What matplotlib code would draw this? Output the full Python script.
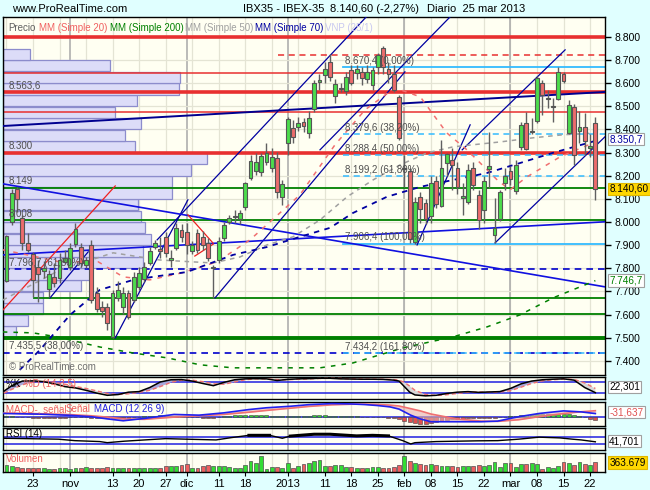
import numpy as np
import matplotlib
matplotlib.use('Agg')
import matplotlib.pyplot as plt
import matplotlib.transforms as mtrans

# ---------------- data ----------------
day_idx = np.arange(-5, 107)  # trading-day index, 0 = 23 Oct 2012

opens = [7746, 8001, 8143, 8018, 7910, 7862, 7806, 7790, 7711, 7763, 7759, 7828, 7806, 7906, 7893, 7815,
         7901, 7695, 7634, 7632, 7505, 7670, 7635, 7695, 7664, 7721, 7753, 7825, 7891, 7883, 7937, 7838,
         7887, 7966, 7959, 7873, 7953, 7935, 7910, 7800, 7836, 7931, 8002, 8020, 8013, 8064, 8190, 8222,
         8217, 8258, 8233, 8276, 8110, 8341, 8405, 8410, 8431, 8384, 8488, 8603, 8636, 8693, 8545, 8575,
         8568, 8657, 8646, 8650, 8620, 8593, 8669, 8751, 8660, 8640, 8542, 8230, 8222, 7915, 8110, 8081,
         8026, 8179, 8070, 8254, 8268, 8233, 8105, 8088, 8233, 8117, 8052, 8228, 7944, 8012, 8170, 8222,
         8132, 8323, 8430, 8388, 8438, 8600, 8530, 8497, 8531, 8640, 8384, 8496, 8394, 8410, 8319, 8430]
highs = [7944, 8143, 8152, 8031, 7953, 7871, 7836, 7830, 7794, 7823, 7867, 7880, 7910, 7996, 7910, 7850,
         7923, 7721, 7660, 7650, 7707, 7745, 7721, 7707, 7786, 7807, 7828, 7894, 7922, 7935, 7959, 7877,
         7996, 7990, 7996, 7920, 7970, 7960, 7930, 7815, 7935, 8000, 8030, 8052, 8052, 8175, 8290, 8300,
         8300, 8342, 8320, 8304, 8180, 8456, 8440, 8455, 8450, 8481, 8614, 8640, 8690, 8724, 8620, 8600,
         8650, 8680, 8680, 8670, 8680, 8670, 8730, 8762, 8690, 8680, 8550, 8290, 8233, 8110, 8130, 8100,
         8200, 8200, 8355, 8300, 8320, 8260, 8169, 8250, 8260, 8140, 8200, 8390, 8105, 8140, 8235, 8240,
         8270, 8434, 8477, 8450, 8633, 8614, 8571, 8535, 8670, 8650, 8528, 8510, 8480, 8470, 8380, 8455]
lows = [7741, 7988, 8044, 7880, 7871, 7676, 7655, 7760, 7677, 7720, 7737, 7823, 7794, 7893, 7806, 7800,
        7650, 7613, 7590, 7534, 7499, 7660, 7604, 7582, 7656, 7707, 7742, 7815, 7885, 7844, 7851, 7804,
        7880, 7914, 7860, 7860, 7865, 7880, 7830, 7672, 7825, 7920, 7990, 7996, 7990, 8052, 8182, 8205,
        8200, 8247, 8218, 8103, 8075, 8290, 8340, 8395, 8390, 8363, 8477, 8570, 8600, 8610, 8516, 8560,
        8550, 8590, 8620, 8590, 8600, 8570, 8640, 8640, 8600, 8560, 8355, 8150, 7910, 7906.4, 7995, 7990,
        7995, 8060, 8067, 8200, 8140, 8120, 8031, 8080, 8140, 7970, 7995, 8147, 7910, 8005, 8140, 8160,
        8120, 8312, 8312, 8380, 8430, 8462, 8493, 8434, 8527, 8600, 8380, 8247, 8340, 8290, 8280, 8096]
closes = [7940, 8126, 8100, 7910, 7880, 7750, 7776, 7800, 7776, 7737, 7836, 7845, 7888, 7970, 7823, 7836,
          7663, 7623, 7617, 7565, 7692, 7705, 7695, 7591, 7762, 7781, 7805, 7875, 7909, 7873, 7865, 7843,
          7973, 7937, 7901, 7901, 7880, 7900, 7845, 7803, 7920, 7987, 8019, 8025, 8038, 8168, 8264, 8261,
          8287, 8297, 8280, 8129, 8163, 8444, 8369, 8430, 8413, 8449, 8600, 8614, 8662, 8628, 8597, 8580,
          8626, 8600, 8662, 8621, 8650, 8657, 8722, 8672, 8640, 8571, 8362, 8235, 7925, 8088, 8055, 8012,
          8170, 8078, 8233, 8294, 8247, 8153, 8112, 8225, 8160, 8009, 8178, 8243, 7973, 8131, 8200, 8185,
          8247, 8420, 8315, 8392, 8622, 8549, 8533, 8500, 8650, 8611, 8506, 8290, 8412, 8352, 8329, 8140.6]
volumes = [270, 240, 200, 160, 135, 160, 135, 135, 120, 110, 135, 170, 110, 135, 135, 180,
           160, 135, 160, 180, 135, 160, 170, 135, 160, 135, 135, 135, 135, 135, 220, 240,
           240, 260, 290, 160, 135, 230, 260, 240, 240, 230, 200, 170, 160, 260, 430, 330,
           600, 110, 200, 200, 135, 330, 160, 240, 290, 330, 430, 470, 240, 240, 260, 260,
           200, 200, 160, 160, 160, 180, 200, 160, 135, 200, 260, 600, 430, 330, 320, 260,
           290, 260, 230, 240, 240, 180, 240, 230, 230, 260, 240, 260, 400, 200, 330, 340,
           210, 290, 290, 340, 290, 120, 200, 160, 230, 400, 330, 260, 370, 290, 270, 363.679]

# moving averages (day index, price)
ma20_idx = [-5.7, -1.1, 5, 12.3, 17, 22, 28, 34.7, 40.9, 50.3, 56.9, 62.6, 68.2, 73, 78, 81.8, 87.5, 89.9, 93.1, 99.3, 106.9]
ma20_val = [7880, 7858, 7828, 7828, 7763, 7750, 7780, 7828, 7923, 8117, 8333, 8485, 8580, 8541, 8385, 8312, 8182, 8139, 8195, 8281, 8355]
ma50_idx = [-5.7, 5.1, 15.1, 23.9, 33.9, 39, 44.1, 49, 54.1, 59.2, 64.1, 69.2, 74.3, 79.2, 88, 94.3, 99.9, 106.3]
ma50_val = [7663, 7793, 7867, 7836, 7823, 7849, 7901, 7936, 8009, 8109, 8182, 8247, 8299, 8325, 8346, 8364, 8377, 8385]
ma70_idx = [-2.5, 1.3, 7, 12.6, 18.9, 22.6, 29, 37.7, 44.1, 50.3, 56, 60.3, 66.7, 73, 79.2, 85.6, 91.8, 98, 106]
ma70_val = [7361, 7447, 7599, 7707, 7750, 7763, 7784, 7858, 7892, 7936, 7975, 8039, 8109, 8152, 8182, 8212, 8255, 8299, 8350.7]
ma200_idx = [-5.7, 0, 4.5, 12.6, 18.9, 25.3, 31.5, 37.7, 54.1, 60.3, 69.7, 79.2, 85.6, 91.8, 98, 106]
ma200_val = [7525, 7521, 7504, 7460, 7434, 7413, 7383, 7370, 7370, 7391, 7456, 7504, 7547, 7599, 7672, 7746.7]

# volume at price (VNP 25/1): bin floor prices and volumes
vap_price = [7500, 7550, 7600, 7650, 7700, 7750, 7800, 7850, 7900, 7950, 8000, 8050, 8100,
             8150, 8200, 8250, 8300, 8350, 8400, 8450, 8500, 8550, 8600, 8650, 8700]
vap_vol = [13, 25, 40, 40, 78, 89, 140, 140, 148, 142, 138, 135, 169,
           169, 188, 204, 132, 122, 138, 112, 134, 176, 177, 107, 27]

# horizontal levels
red_thick = [8800, 8563.6, 8300]
red_thin = [8645, 8476]
green_thin = [8149, 8008, 7603]
fib_solid = [8670.4, 7906.4]
fib_dash = [8379.6, 8288.4, 8199.2, 7434.2]

# trend lines: (idx0, price0, idx1, price1)
navy_lines = [(3.2, 7672, 10.4, 7871), (15.5, 7499, 29.2, 8096), (23.4, 7923, 62.8, 8886),
              (34.3, 7672, 70.1, 8649), (54.1, 8312, 78.6, 8886), (72.4, 7901, 82.4, 8420),
              (80.9, 8312, 100.3, 8744), (87.1, 7910, 107.8, 8368)]
blue_long = [(-5.66, 8165, 107.8, 7720), (-5.66, 7858, 107.8, 8001)]
navy_long = [(-5.66, 8415, 107.8, 8562)]
red_lines = [(-5.66, 7620, 15.5, 8156), (29.2, 8031, 33.9, 7910), (30.5, 7853, 34.0, 7905)]

# oscillators (day index knots)
osc_idx = [-5.5, -4, -2, 0, 2, 4, 6, 8, 10, 12, 14, 16, 18, 20, 22, 24, 26, 28, 30, 32, 34, 36, 38, 40,
           42, 44, 46, 48, 50, 52, 54, 56, 58, 60, 62, 64, 66, 68, 69, 70, 71, 72, 74, 76, 78, 80, 82,
           84, 86, 88, 90, 92, 94, 96, 98, 100, 102, 104, 106]
stoch_k = [30, 60, 85, 86, 82, 70, 55, 48, 35, 20, 8, 12, 25, 28, 50, 80, 92, 93, 85, 72, 60, 78, 92, 97,
           98, 97, 88, 94, 97, 98, 100, 100, 97, 96, 95, 95, 94, 90, 85, 55, 25, 10, 5, 8, 18, 25, 28,
           24, 26, 28, 45, 70, 85, 92, 95, 97, 90, 50, 22.301]
stoch_d = [20, 40, 65, 80, 84, 78, 68, 56, 45, 32, 18, 12, 16, 24, 35, 55, 78, 90, 90, 82, 70, 68, 80, 92,
           97, 97, 93, 92, 95, 97, 99, 100, 99, 97, 96, 95, 95, 93, 90, 78, 58, 35, 12, 7, 11, 18, 25,
           26, 25, 26, 33, 52, 72, 86, 92, 96, 94, 75, 45]

macd_idx = [-5.5, 1.5, 7, 11, 14, 17, 21, 26.6, 31.3, 36, 40.7, 44, 48.5, 52, 56.3, 60, 62.6, 65, 67.3,
            69, 71.2, 73, 75, 79.8, 84.5, 87.6, 91.5, 95.4, 100, 103.3, 106]
macd_line = [41, 33, 20, 4, -20, -41, -15, 30, 22, 48, 85, 105, 122, 140, 152, 148, 141, 130, 115, 90,
             22, -20, -52, -52, -52, -45, 4, 41, 70, 59, 40]
macd_signal = [45, 38, 28, 15, 0, -20, -25, 0, 15, 30, 55, 75, 100, 120, 138, 145, 146, 142, 135, 125,
               95, 70, 35, -20, -45, -48, -30, 5, 40, 60, 72]
macd_hist = [8, 10, 6, 2, -4, -8, -10, -10, -12, -10, -8, -6, -4, -2, -2, -4,
             -8, -10, -12, -14, -10, -8, -6, -8, -4, 2, 8, 14, 18, 20, 18, 12,
             10, 8, 4, 0, -4, -6, -8, -6, 4, 12, 16, 20, 22, 26, 28, 26,
             24, 20, 18, 10, 8, 16, 18, 18, 16, 16, 20, 22, 20, 18, 14, 12,
             12, 10, 8, 6, 4, 2, 2, -2, -6, -10, -24, -40, -60, -70, -75, -80,
             -70, -60, -45, -35, -25, -20, -16, -12, -10, -12, -10, -8, -8, -4, 2, 8,
             14, 22, 26, 28, 34, 36, 34, 32, 36, 40, 34, 20, 10, 0, -18, -31.637]

rsi_idx = [-5.5, 4.8, 7.9, 12.6, 14, 17.2, 25, 29, 34.5, 37.5, 40.7, 44.6, 47, 48.5, 53, 56, 61, 64, 67,
           69.7, 71.2, 72, 76, 79.8, 83.7, 87.6, 91.5, 95.4, 99.3, 101.7, 103.3, 106]
rsi_val = [61, 56, 48, 43, 37, 45, 59, 56, 52, 65, 77, 77, 61, 73, 83, 83, 74, 77, 74,
           48, 30, 37, 43, 45, 47, 48, 56, 67, 63, 56, 52, 41.701]

month_idx = [7, 29, 48, 70, 90]
xt_idx = [0, 7, 15, 20, 25, 29, 35, 40, 48, 55, 60, 65, 70, 75, 80, 85, 90, 95, 100, 105]
xt_lab = ['23', 'nov', '13', '20', '27', 'dic', '11', '18', '2013', '11', '18', '25', 'feb',
          '08', '15', '22', 'mar', '08', '15', '22']

# ---------------- style ----------------
W, H = 650, 490
plt.rcParams['font.family'] = ['Liberation Sans', 'DejaVu Sans']
BG = '#E0FFFF'
PANEL = '#FFFFF2'
GRID = '#E4E4D4'
MONTH = '#A8A8A8'
GREEN_C = '#4CDC4C'
RED_C = '#EC6C6C'
EDGE = '#606060'
XMIN, XMAX = -5.655, 107.82
RFS = 7.2  # right-hand label font size

fig = plt.figure(figsize=(6.5, 4.9), dpi=100)
fig.patch.set_facecolor(BG)


def rect(x0, y0, x1, y1):
    return [x0 / W, 1 - y1 / H, (x1 - x0) / W, (y1 - y0) / H]


def base_axes(r):
    a = fig.add_axes(r)
    a.set_facecolor(PANEL)
    a.set_xlim(XMIN, XMAX)
    for s in a.spines.values():
        s.set_color('black')
        s.set_linewidth(1)
    a.set_xticks([])
    for i in range(-5, 107, 5):
        a.axvline(i, color=GRID, lw=0.9, zorder=0)
    for m in month_idx:
        a.axvline(m, color=MONTH, lw=1.1, zorder=0)
    a.yaxis.tick_right()
    a.set_yticks([])
    return a


def fmt_price(p):
    return f"{int(p):,}".replace(',', '.')


def fig_text(xp, yp, s, **kw):
    fig.text(xp / W, 1 - yp / H, s, va='center', ha='left', **kw)


# ---------------- header ----------------
fig_text(12, 9, 'www.ProRealTime.com', fontsize=8)
fig_text(243, 9, 'IBX35 - IBEX-35', fontsize=8)
fig_text(330, 9, '8.140,60 (-2,27%)', fontsize=8)
fig_text(427, 9, 'Diario  25 mar 2013', fontsize=8)

# ---------------- main panel ----------------
ax = base_axes(rect(3, 17, 605, 375))
ax.set_ylim(7339, 8886)
for p in range(7400, 8900, 100):
    ax.axhline(p, color=GRID, lw=0.9, zorder=0)

# volume at price histogram
ax.barh(np.array(vap_price) + 25, np.array(vap_vol) / 5.305, height=48.5, left=XMIN,
        color='#DCDCF8', edgecolor='#8C8CCC', lw=0.9, zorder=1)

# horizontal levels
for p in red_thick:
    ax.axhline(p, color='#E83030', lw=2.6, zorder=2)
for p in red_thin:
    ax.axhline(p, color='#E83030', lw=1.1, zorder=2)
ax.plot([46.2, XMAX], [8720, 8720], color='#E83030', lw=1.1, ls=(0, (4, 3)), zorder=2)
for p in green_thin:
    ax.axhline(p, color='#008000', lw=1.3, zorder=2)
ax.plot([0.2, XMAX], [7672, 7672], color='#008000', lw=1.3, zorder=2)
ax.axhline(7500, color='#008000', lw=2.8, zorder=2)
ax.axhline(7796.7, color='#0000CC', lw=1.2, ls=(0, (4, 3)), zorder=2)
ax.axhline(7435.5, color='#0000CC', lw=1.2, ls=(0, (4, 3)), zorder=2)
for p in fib_solid:
    ax.plot([58.4, XMAX], [p, p], color='#33BBFF', lw=1.3, zorder=2)
for p in fib_dash:
    ax.plot([58.4, XMAX], [p, p], color='#33BBFF', lw=1.1, ls=(0, (4, 3)), zorder=2)

# trend lines
for (a0, p0, a1, p1) in navy_lines:
    ax.plot([a0, a1], [p0, p1], color='#0000A0', lw=0.9, zorder=3)
for (a0, p0, a1, p1) in blue_long:
    ax.plot([a0, a1], [p0, p1], color='#1010E0', lw=1.2, zorder=3)
for (a0, p0, a1, p1) in navy_long:
    ax.plot([a0, a1], [p0, p1], color='#000090', lw=1.4, zorder=3)
for (a0, p0, a1, p1) in red_lines:
    ax.plot([a0, a1], [p0, p1], color='#F02020', lw=0.9, zorder=3)

# moving averages
ax.plot(ma200_idx, ma200_val, color='#008000', lw=1.1, ls=(0, (3, 4)), zorder=3)
ax.plot(ma50_idx, ma50_val, color='#A0A0A0', lw=1.1, ls=(0, (3, 3)), zorder=3)
ax.plot(ma20_idx, ma20_val, color='#F07070', lw=1.1, ls=(0, (3, 4)), zorder=3)
ax.plot(ma70_idx, ma70_val, color='#0000A0', lw=1.3, ls=(0, (3, 3)), zorder=3)

# candles
o = np.array(opens, float); c = np.array(closes, float)
hi = np.array(highs, float); lo = np.array(lows, float)
up = c >= o
ccol = np.where(up, GREEN_C, RED_C)
ax.vlines(day_idx, lo, hi, color=EDGE, lw=1.0, zorder=4)
body_h = np.maximum(np.abs(c - o), 5)
ax.bar(day_idx, body_h, bottom=np.minimum(o, c), width=0.72, color=ccol,
       edgecolor='#555555', lw=0.8, zorder=5)

# text labels on the chart
lab_kw = dict(fontsize=7, color='#505050', ha='left', va='bottom', zorder=6)
ax.text(-4.6, 8563.6 + 6, '8.563,6', **lab_kw)
ax.text(-4.6, 8300 + 6, '8.300', **lab_kw)
ax.text(-4.6, 8149 + 6, '8.149', **lab_kw)
ax.text(-4.6, 8008 + 6, '8.008', **lab_kw)
ax.text(-4.6, 7796.7 + 6, '7.796,7 (61,80%)', **lab_kw)
ax.text(-4.6, 7435.5 + 6, '7.435,5 (38,00%)', **lab_kw)
for p, t in [(8670.4, '8.670,4 (0,00%)'), (8379.6, '8.379,6 (38,20%)'), (8288.4, '8.288,4 (50,00%)'),
             (8199.2, '8.199,2 (61,80%)'), (7906.4, '7.906,4 (100,00%)'), (7434.2, '7.434,2 (161,80%)')]:
    ax.text(58.8, p + 6, t, **lab_kw)
ax.text(-4.6, 7350, '© ProRealTime.com', fontsize=7, color='#707070', ha='left', va='bottom')

# legend line
legend_items = [(8, 'Precio', '#606060'), (39, 'MM (Simple 20)', '#F06060'), (110, 'MM (Simple 200)', '#008000'),
                (185, 'MM (Simple 50)', '#A0A0A0'), (255, 'MM (Simple 70)', '#0000A0'), (325, 'VNP (25/1)', '#C8C8F0')]
for xp, t, col in legend_items:
    fig_text(xp, 28, t, fontsize=7, color=col)

# right axis ticks
ax.set_yticks(range(7400, 8900, 100))
ax.set_yticklabels([fmt_price(p) for p in range(7400, 8900, 100)])
ax.tick_params(axis='y', length=4, width=1, labelsize=7.5, pad=3)

bt = mtrans.blended_transform_factory(ax.transAxes, ax.transData)
box_w = dict(boxstyle='square,pad=0.12', fc='white', ec='#A0A0A0', lw=0.8)
box_y = dict(boxstyle='square,pad=0.12', fc='#FFD700', ec='#E0B800', lw=0.8)
ax.text(1.007, 8358, '8.350,7', transform=bt, fontsize=RFS, color='#0000A0', va='center', ha='left',
        bbox=box_w, zorder=10, clip_on=False)
ax.text(1.007, 8144, '8.140,60', transform=bt, fontsize=RFS, color='black', va='center', ha='left',
        bbox=box_y, zorder=10, clip_on=False)
ax.text(1.007, 7748, '7.746,7', transform=bt, fontsize=RFS, color='#008000', va='center', ha='left',
        bbox=box_w, zorder=10, clip_on=False)

# ---------------- stochastic panel ----------------
ak = base_axes(rect(3, 377, 605, 399))
ak.set_ylim(-12, 107)
ak.axhline(80, color='#2020E0', lw=1.1, zorder=1)
ak.axhline(20, color='#2020E0', lw=1.1, zorder=1)
kk = np.array(stoch_k); dd = np.array(stoch_d)
ak.fill_between(osc_idx, kk, dd, where=kk >= dd, color='#A8A8DC', interpolate=True, zorder=2, lw=0)
ak.fill_between(osc_idx, kk, dd, where=kk < dd, color='#D8D8D8', interpolate=True, zorder=2, lw=0)
ak.plot(osc_idx, dd, color='#F07070', lw=1.0, ls=(0, (3, 2)), zorder=3)
ak.plot(osc_idx, kk, color='black', lw=1.1, zorder=4)
fig_text(6, 384, '%K', fontsize=7, color='black')
fig_text(24, 384, '%D (14 3 5)', fontsize=7, color='#F06060')
ak.text(1.007, 0.55, '22,301', transform=ak.transAxes, fontsize=RFS, color='black', va='center', ha='left',
        bbox=box_w, clip_on=False)

# ---------------- MACD panel ----------------
am = base_axes(rect(3, 402, 605, 426))
am.set_ylim(-100, 170)
hist = np.array(macd_hist)
am.bar(day_idx, hist, width=0.75, color=np.where(hist >= 0, '#33CC33', '#E05050'),
       edgecolor='#404040', lw=0.4, zorder=2)
am.axhline(0, color='#2020E0', lw=1.1, zorder=1)
ml = np.array(macd_line); sl = np.array(macd_signal)
am.fill_between(macd_idx, ml, sl, color='#E8B0B0', alpha=0.6, interpolate=True, zorder=2, lw=0)
am.plot(macd_idx, sl, color='#F07070', lw=1.2, zorder=3)
am.plot(macd_idx, ml, color='#2020F0', lw=1.2, zorder=4)
fig_text(6, 409, 'MACD-, señal', fontsize=7, color='#F06060')
fig_text(66, 409, 'Señal', fontsize=7, color='#F06060')
fig_text(94, 409, 'MACD (12 26 9)', fontsize=7, color='#2020E0')
am.text(1.007, 0.58, '-31,637', transform=am.transAxes, fontsize=RFS, color='#E05050', va='center', ha='left',
        bbox=box_w, clip_on=False)

# ---------------- RSI panel ----------------
ar = base_axes(rect(3, 428, 605, 450))
ar.set_ylim(-3, 117)
ar.axhline(70, color='#2020E0', lw=1.1, zorder=1)
ar.axhline(30, color='#2020E0', lw=1.1, zorder=1)
rv = np.array(rsi_val, float)
ar.plot(rsi_idx, rv, color='black', lw=1.0, zorder=3)
ar.plot(rsi_idx, np.where(rv > 72, rv, np.nan), color='black', lw=2.2, zorder=3)
fig_text(6, 434, 'RSI (14)', fontsize=7, color='black')
ar.text(1.007, 0.4, '41,701', transform=ar.transAxes, fontsize=RFS, color='black', va='center', ha='left',
        bbox=box_w, clip_on=False)

# ---------------- volume panel ----------------
av = base_axes(rect(3, 453, 605, 472))
av.set_ylim(0, 727)
av.bar(day_idx, volumes, width=0.72, color=np.where(up, '#33DD33', '#EE6060'),
       edgecolor='#505050', lw=0.5, zorder=2)
fig_text(6, 459, 'Volumen', fontsize=7, color='#F06060')
av.text(1.007, 0.5, '363.679', transform=av.transAxes, fontsize=RFS, color='black', va='center', ha='left',
        bbox=box_y, clip_on=False)
av.set_xticks(xt_idx)
av.set_xticklabels(xt_lab)
av.tick_params(axis='x', length=3, labelsize=8, pad=2)

fig.savefig('out.png', dpi=100, facecolor=BG)
